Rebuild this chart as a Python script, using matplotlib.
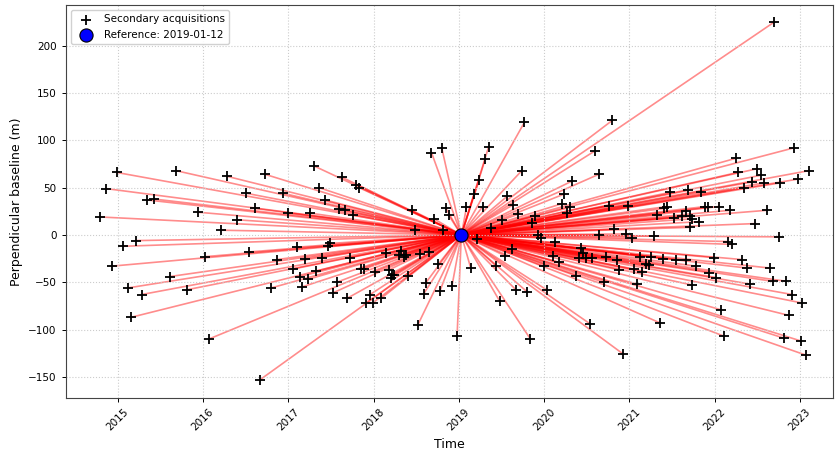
import matplotlib
matplotlib.use("Agg")
import matplotlib.pyplot as plt
import matplotlib.dates as mdates
import numpy as np
import pandas as pd

# secondary acquisitions: decimal year and perpendicular baseline (m)
sec_year = [
    2014.79, 2014.86, 2014.99, 2014.93, 2015.06, 2015.12, 2015.16, 2015.21, 2015.28, 2015.34,
    2015.42, 2015.61, 2015.68, 2015.81, 2015.94, 2016.02, 2016.07, 2016.21, 2016.28, 2016.40,
    2016.51, 2016.54, 2016.61, 2016.67, 2016.73, 2016.80, 2016.87, 2016.94, 2017.00, 2017.06,
    2017.10, 2017.14, 2017.16, 2017.20, 2017.23, 2017.26, 2017.30, 2017.33, 2017.36, 2017.39,
    2017.43, 2017.47, 2017.49, 2017.53, 2017.57, 2017.59, 2017.63, 2017.66, 2017.69, 2017.73,
    2017.76, 2017.80, 2017.83, 2017.85, 2017.89, 2017.91, 2017.96, 2017.99, 2018.02, 2018.09,
    2018.15, 2018.18, 2018.22, 2018.24, 2018.21, 2018.30, 2018.32, 2018.36, 2018.38, 2018.41,
    2018.45, 2018.49, 2018.52, 2018.55, 2018.59, 2018.61, 2018.65, 2018.68, 2018.71, 2018.76,
    2018.78, 2018.80, 2018.81, 2018.85, 2018.88, 2018.92, 2018.98,
    2019.09, 2019.14, 2019.18, 2019.21, 2019.24, 2019.28, 2019.31, 2019.35, 2019.38, 2019.44,
    2019.48, 2019.51, 2019.54, 2019.57, 2019.62, 2019.64, 2019.67, 2019.70, 2019.74, 2019.77,
    2019.80, 2019.84, 2019.86, 2019.89, 2019.93, 2019.96, 2020.00, 2020.03, 2020.10, 2020.13,
    2020.17, 2020.21, 2020.23, 2020.27, 2020.30, 2020.33, 2020.37, 2020.41, 2020.43, 2020.46,
    2020.49, 2020.54, 2020.56, 2020.60, 2020.64, 2020.65, 2020.70, 2020.73, 2020.76, 2020.80,
    2020.82, 2020.86, 2020.88, 2020.93, 2020.96, 2020.99, 2021.03, 2021.05, 2021.09, 2021.13,
    2021.15, 2021.19, 2021.23, 2021.26, 2021.29, 2021.32, 2021.36, 2021.39, 2021.41, 2021.44,
    2021.48, 2021.52, 2021.55, 2021.62, 2021.66, 2021.67, 2021.69, 2021.71, 2021.71, 2021.73,
    2021.74, 2021.78, 2021.82, 2021.84, 2021.89, 2021.92, 2021.94, 2021.99, 2022.02, 2022.05,
    2022.07, 2022.11, 2022.16, 2022.18, 2022.21, 2022.25, 2022.27, 2022.32, 2022.34, 2022.38,
    2022.42, 2022.44, 2022.48, 2022.50, 2022.54, 2022.58, 2022.61, 2022.65, 2022.68, 2022.70,
    2022.75, 2022.77, 2022.81, 2022.84, 2022.87, 2022.91, 2022.93, 2022.98, 2023.01, 2023.03,
    2023.07, 2023.11,
]
sec_bperp = [
    19, 49, 66, -33, -12, -56, -87, -6, -63, 37,
    38, -44, 68, -58, 24, -23, -110, 5, 62, 16,
    44, -18, 28, -153, 64, -56, -26, 44, 23, -36,
    -13, -44, -55, -25, -47, 23, 73, -38, 50, -24,
    37, -12, -9, -61, -50, 27, 61, 26, -67, -24,
    21, 53, 50, -36, -36, -72, -63, -72, -39, -67,
    -19, -37, -42, -42, -45, -21, -17, -23, -21, -43,
    26, 5, -95, -20, -62, -51, -18, 87, 17, -31,
    -59, 92, 5, 28, 21, -54, -107,
    29, -35, 43, -4, 58, 30, 80, 93, 7, -33,
    -70, 16, -22, 41, -15, 32, -58, 22, 68, 119,
    -60, -110, 13, 20, 0, -3, -33, -58, -22, -8,
    -29, 33, 43, 23, 29, 57, -43, -24, -14, -19,
    -24, -94, -24, 89, 64, 0, -50, -23, 31, 121,
    6, -27, -37, -126, 1, 31, -3, -36, -52, -23,
    -39, -31, -32, -23, -1, 21, -93, -25, 28, 30,
    45, 18, -26, 20, -27, 25, 47, 20, 8, 17,
    -53, -33, 14, 45, 30, 29, -40, -24, -45, 30,
    -79, -107, -7, 26, -10, 81, 66, -26, 50, -35,
    -52, 56, 12, 70, 63, 55, 26, -35, -49, 225,
    -2, 55, -109, -49, -85, -63, 92, 59, -112, -72,
    -127, 68,
]
ref_date = "2019-01-12"
ref_bperp = 0


def to_date(yrs):
    yrs = np.asarray(yrs, dtype=float)
    return pd.Timestamp("2015-01-01") + pd.to_timedelta((yrs - 2015) * 365.25, unit="D")


sec_dates = to_date(sec_year)
ref = pd.Timestamp(ref_date)

fig = plt.figure(figsize=(8.35, 4.55), dpi=100)
ax = fig.add_axes([0.0787, 0.126, 0.919, 0.863])

for d, b in zip(sec_dates, sec_bperp):
    ax.plot([ref, d], [ref_bperp, b], color="red", alpha=0.45, lw=1.2, zorder=1)

ax.scatter(sec_dates, sec_bperp, marker="+", color="black", s=60, linewidths=1.3,
           zorder=3, label="Secondary acquisitions")
ax.scatter([ref], [ref_bperp], marker="o", s=90, color="blue", edgecolors="black",
           linewidths=0.8, zorder=4, label="Reference: " + ref_date)

ax.set_xlim(to_date([2014.39])[0], to_date([2023.39])[0])
ax.set_ylim(-172, 243)
ax.xaxis.set_major_locator(mdates.YearLocator())
ax.xaxis.set_major_formatter(mdates.DateFormatter("%Y"))
ax.tick_params(axis="both", labelsize=7.5, length=3, width=0.7)
plt.setp(ax.get_xticklabels(), rotation=45)
for s in ax.spines.values():
    s.set_linewidth(0.8)
    s.set_color("#444444")

ax.grid(True, linestyle=":", color="#cccccc", linewidth=0.8)
ax.set_xlabel("Time", fontsize=9)
ax.set_ylabel("Perpendicular baseline (m)", fontsize=9)
ax.legend(loc="upper left", fontsize=7.5, framealpha=0.9, borderpad=0.4)

plt.savefig("out.png", dpi=100)
